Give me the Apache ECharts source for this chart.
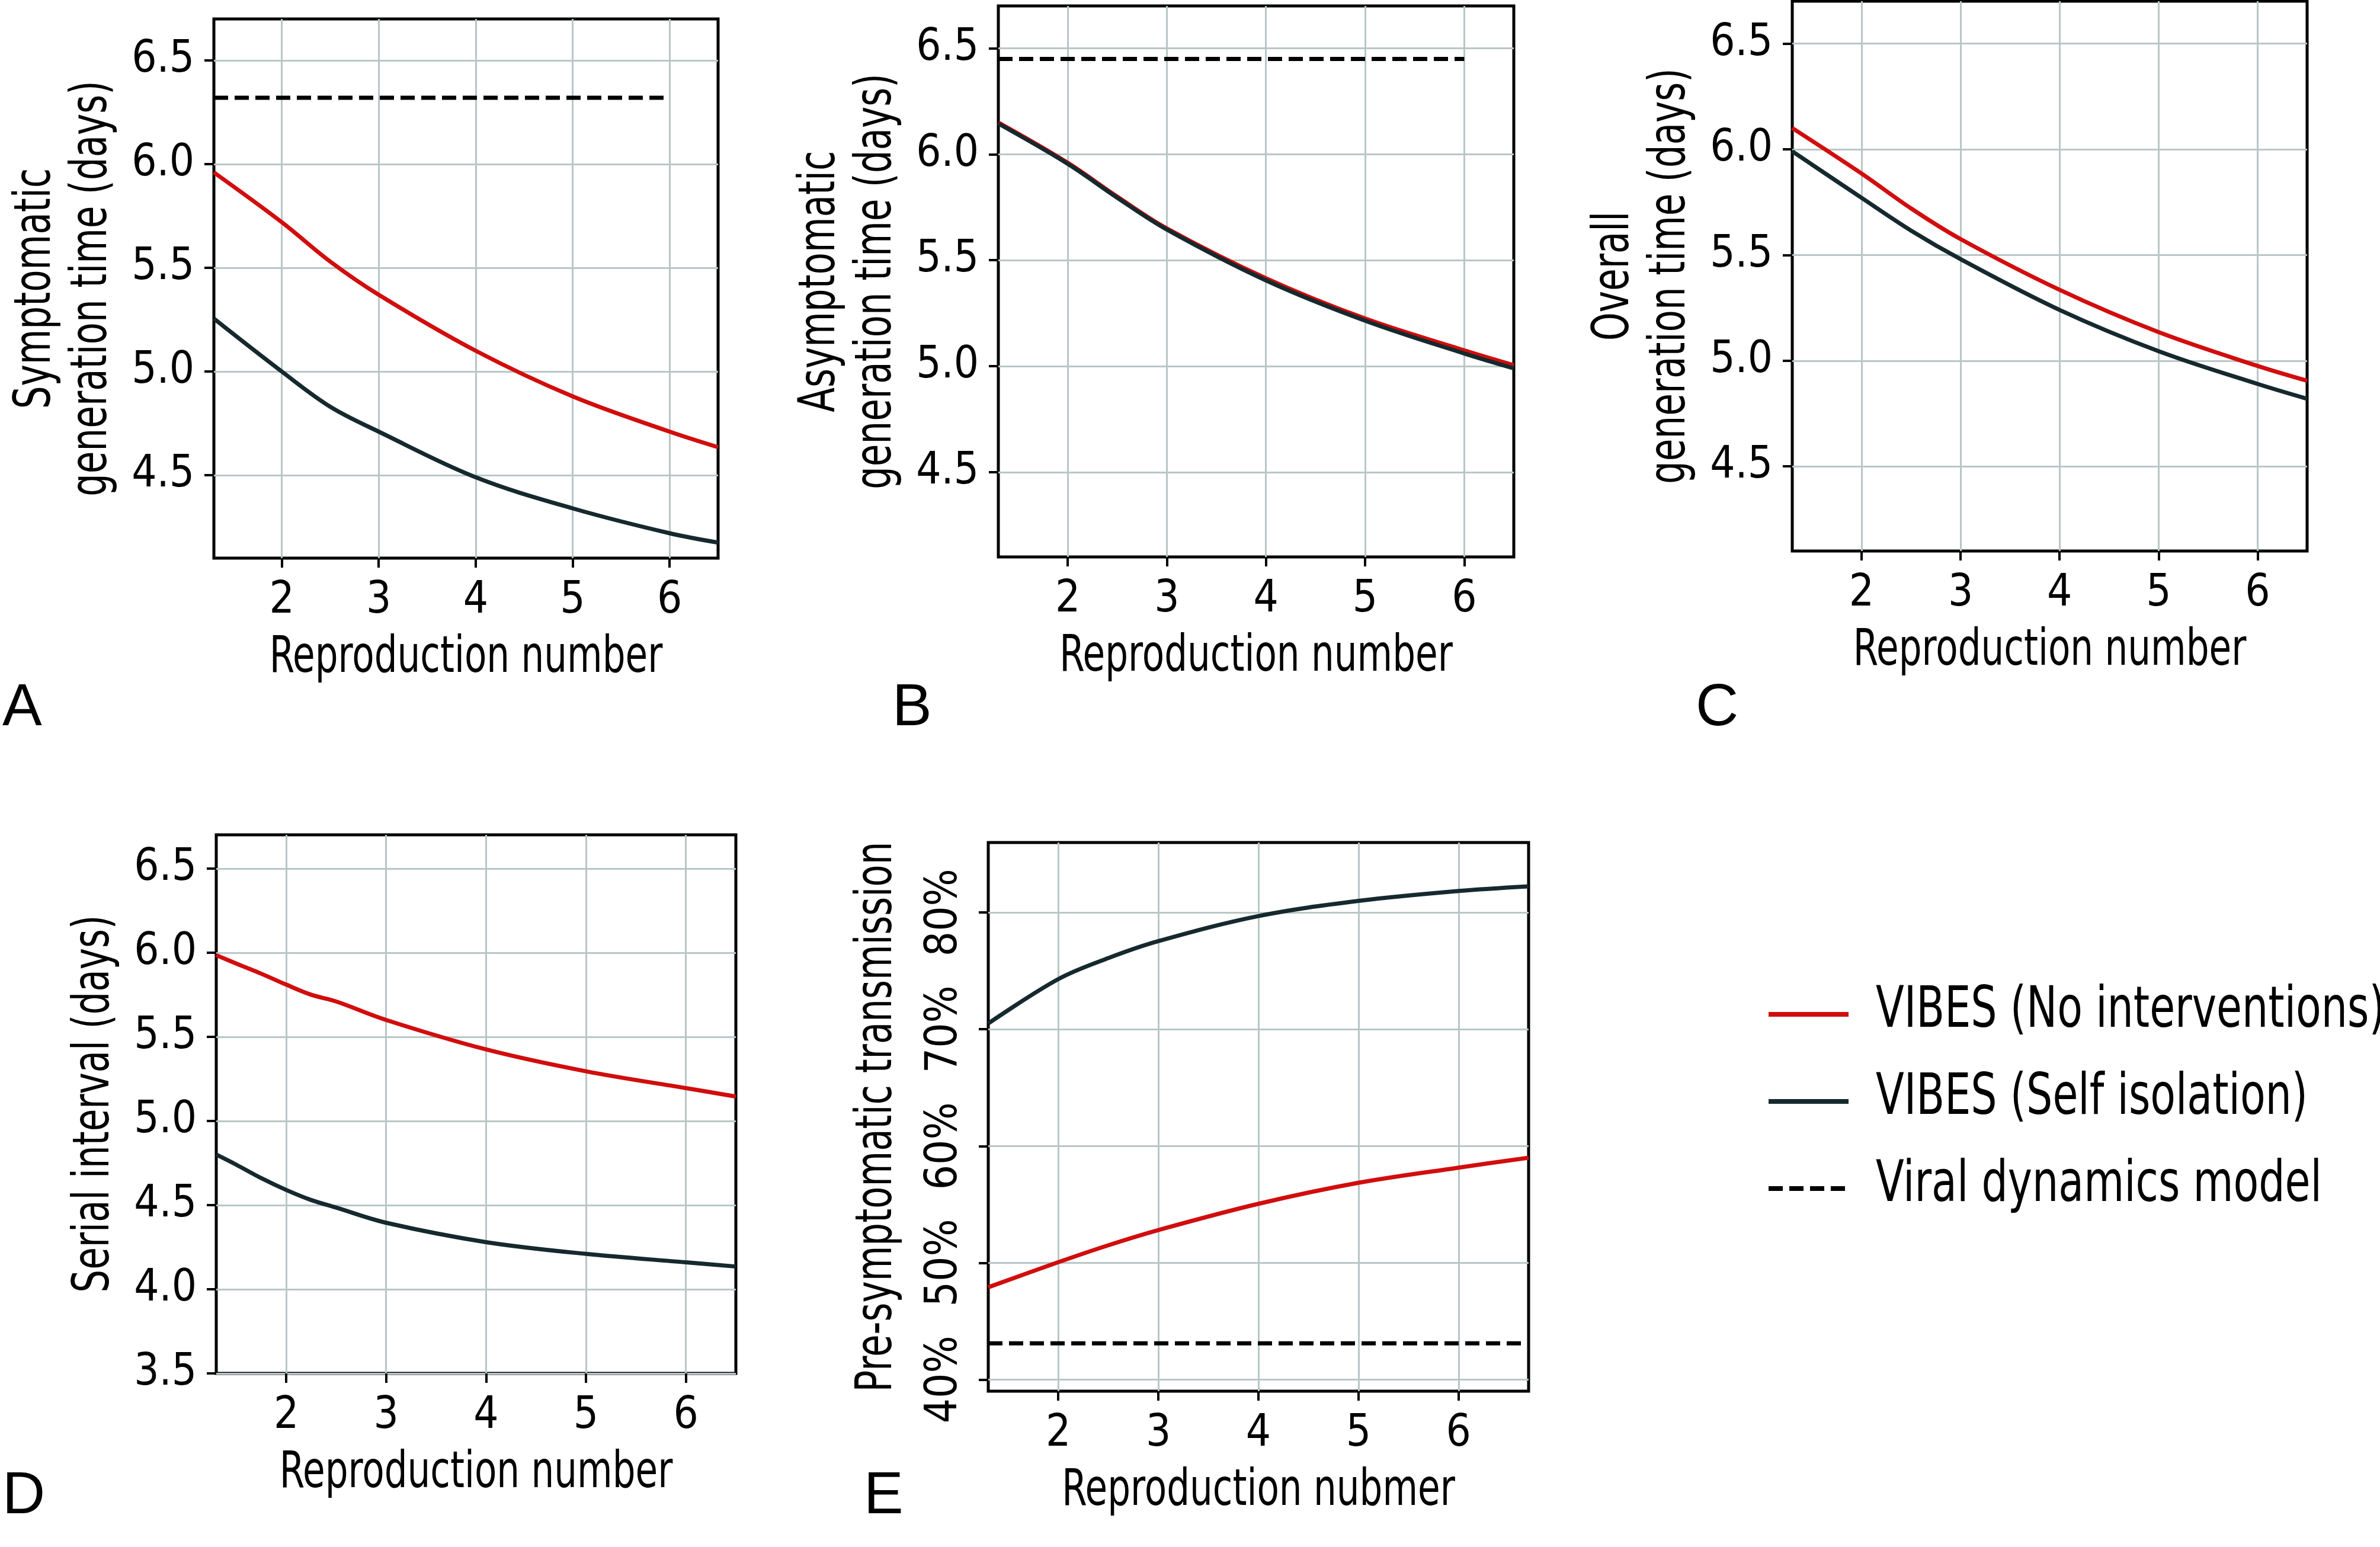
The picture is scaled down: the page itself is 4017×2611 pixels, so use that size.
<!DOCTYPE html>
<html>
<head>
<meta charset="utf-8">
<script src="https://cdn.jsdelivr.net/npm/echarts@6/dist/echarts.min.js"></script>
<style>
html, body { margin: 0; padding: 0; background: #fff; }
#chart { width: 4017px; height: 2611px; }
</style>
</head>
<body>
<div id="chart"></div>
<script>
// reproduction numbers sampled along the curves (panels A-C)
const rABC = [1.3, 2, 2.5, 3, 4, 5, 6, 6.5]
const symNoInt = [5.96, 5.72, 5.53, 5.37, 5.10, 4.88, 4.71, 4.635]
const symIso = [5.255, 5.0, 4.83, 4.71, 4.49, 4.34, 4.22, 4.175]
const asymNoInt = [6.15, 5.96, 5.80, 5.65, 5.415, 5.225, 5.075, 5.005]
const asymIso = [6.145, 5.955, 5.795, 5.645, 5.405, 5.215, 5.06, 4.99]
const allNoInt = [6.10, 5.885, 5.72, 5.575, 5.335, 5.135, 4.975, 4.905]
const allIso = [5.99, 5.77, 5.615, 5.48, 5.24, 5.045, 4.89, 4.82]
// panel D
const rD = [1.3, 1.5, 1.75, 2, 2.25, 2.5, 3, 4, 5, 6, 6.5]
const serialNoInt = [5.985, 5.935, 5.875, 5.81, 5.75, 5.71, 5.60, 5.425, 5.295, 5.195, 5.145]
const serialIso = [4.80, 4.74, 4.66, 4.59, 4.53, 4.485, 4.395, 4.28, 4.21, 4.16, 4.135]
// panel E (percent)
const rE = [1.3, 2, 2.5, 3, 4, 5, 6, 6.7]
const preNoInt = [47.9, 50.05, 51.5, 52.8, 55.05, 56.85, 58.15, 59.0]
const preIso = [70.5, 74.3, 76.1, 77.55, 79.7, 81.0, 81.85, 82.25]
// viral dynamics model (flat reference)
const viralR = [1.3, 6]
const viralRE = [1.3, 6.7]
const viralSym = 6.32
const viralAsym = 6.45
const viralPre = 43.1
// ticks
const rTicks = [2, 3, 4, 5, 6]
const dayTicks = [4.5, 5.0, 5.5, 6.0, 6.5]
const serialTicks = [3.5, 4.0, 4.5, 5.0, 5.5, 6.0, 6.5]
const preTicks = [40, 50, 60, 70, 80]

const NAMES = ['VIBES (No interventions)', 'VIBES (Self isolation)', 'Viral dynamics model']
const RED = '#d10d0d'
const DARK = '#15292e'
const FONT = "'Liberation Sans Narrow', 'DejaVu Sans Condensed', sans-serif"
const GRIDC = '#b9c6c6'
const SQUEEZE = 0.8   // the source font is narrower than anything installed

const pairs = (xs, ys) => xs.map((x, i) => [x, ys[i]])
const flat = (xs, v) => xs.map(x => [x, v])

const boxes = [
  { left: 361, top: 32, width: 851, height: 910 },
  { left: 1685, top: 10, width: 870, height: 930 },
  { left: 3025, top: 2, width: 869, height: 928 },
  { left: 365, top: 1409, width: 877, height: 909 },
  { left: 1668, top: 1422, width: 912, height: 926 }
]
const grids = boxes.map(b => Object.assign({}, b, { show: true, borderColor: '#000', borderWidth: 5, containLabel: false }))

function xAxis(i, max) {
  return {
    type: 'value', gridIndex: i, min: 1.3, max: max,
    axisLine: { show: false },
    axisTick: { show: true, length: 16, customValues: rTicks, lineStyle: { color: '#000', width: 4 } },
    axisLabel: { customValues: rTicks, margin: 36, fontSize: 74, fontFamily: FONT, color: '#000' },
    splitLine: { show: true, lineStyle: { color: GRIDC, width: 3 } }
  }
}

function yAxis(i, min, max, ticks, fmt, rotate) {
  return {
    type: 'value', gridIndex: i, min: min, max: max,
    axisLine: { show: false },
    axisTick: { show: true, length: 16, customValues: ticks, lineStyle: { color: '#000', width: 4 } },
    axisLabel: { customValues: ticks, margin: rotate ? 36 : 33, rotate: rotate || 0, fontSize: 74, fontFamily: FONT, color: '#000', formatter: fmt },
    splitLine: { show: true, lineStyle: { color: GRIDC, width: 3 } }
  }
}

const dayFmt = v => v.toFixed(1)
const pctFmt = v => v + '%'

function line(i, name, data, color, dashed) {
  return {
    type: 'line', name: name, xAxisIndex: i, yAxisIndex: i, data: data,
    symbol: 'none', smooth: dashed ? false : 0.35,
    color: color,
    lineStyle: { color: color, width: 7, type: dashed ? [24, 11] : 'solid' },
    z: dashed ? 3 : 4
  }
}

// squeezed text helper for titles and legend labels
function label(text, x, y, size, rot, align) {
  return {
    type: 'text', x: x, y: y, rotation: rot || 0, scaleX: SQUEEZE,
    style: { text: text, x: 0, y: 0, fontSize: size, fontFamily: FONT, fill: '#000', align: align || 'center', verticalAlign: 'middle' }
  }
}

// axis titles
const xTitles = ['Reproduction number', 'Reproduction number', 'Reproduction number', 'Reproduction number', 'Reproduction nubmer']
const titles = []
boxes.forEach((b, i) => {
  titles.push(label(xTitles[i], b.left + b.width / 2, b.top + b.height + 170, 85))
})
const R = Math.PI / 2
titles.push(label('Symptomatic', 62, 487, 85, R), label('generation time (days)', 157, 487, 85, R))
titles.push(label('Asymptomatic', 1386, 475, 85, R), label('generation time (days)', 1481, 475, 85, R))
titles.push(label('Overall', 2726, 466, 85, R), label('generation time (days)', 2821, 466, 85, R))
titles.push(label('Serial interval (days)', 161, 1863, 85, R))
titles.push(label('Pre-symptomatic transmission', 1482, 1885, 85, R))

const letters = [
  ['A', 4, 1146], ['B', 1506, 1146], ['C', 2862, 1146],
  ['D', 4, 2476], ['E', 1458, 2476]
].map(([t, x, y]) => ({
  type: 'text', left: x, top: y,
  style: { text: t, fontSize: 100, fontFamily: "'Liberation Sans', Arial, sans-serif", fill: '#000' }
}))

// legend drawn by hand: sample line + label per row
const legendRows = [[1712, RED, null], [1859, DARK, null], [2006, '#000', [24, 11]]]
const legend = []
legendRows.forEach(([y, c, dash], k) => {
  legend.push({
    type: 'line', shape: { x1: 2985, y1: y, x2: 3120, y2: y },
    style: { stroke: c, lineWidth: 8, lineDash: dash }
  })
  legend.push(label(NAMES[k], 3166, y - 4, 97, 0, 'left'))
})

const chart = echarts.init(document.getElementById('chart'))
chart.setOption({
  animation: false,
  backgroundColor: '#fff',
  grid: grids,
  xAxis: [xAxis(0, 6.5), xAxis(1, 6.5), xAxis(2, 6.5), xAxis(3, 6.5), xAxis(4, 6.7)],
  yAxis: [
    yAxis(0, 4.1, 6.7, dayTicks, dayFmt),
    yAxis(1, 4.1, 6.7, dayTicks, dayFmt),
    yAxis(2, 4.1, 6.7, dayTicks, dayFmt),
    yAxis(3, 3.5, 6.7, serialTicks, dayFmt),
    yAxis(4, 39, 86, preTicks, pctFmt, 90)
  ],
  graphic: letters.concat(titles, legend),
  series: [
    line(0, NAMES[2], flat(viralR, viralSym), '#000', true),
    line(0, NAMES[0], pairs(rABC, symNoInt), RED),
    line(0, NAMES[1], pairs(rABC, symIso), DARK),
    line(1, NAMES[2], flat(viralR, viralAsym), '#000', true),
    line(1, NAMES[0], pairs(rABC, asymNoInt), RED),
    line(1, NAMES[1], pairs(rABC, asymIso), DARK),
    line(2, NAMES[0], pairs(rABC, allNoInt), RED),
    line(2, NAMES[1], pairs(rABC, allIso), DARK),
    line(3, NAMES[0], pairs(rD, serialNoInt), RED),
    line(3, NAMES[1], pairs(rD, serialIso), DARK),
    line(4, NAMES[2], flat(viralRE, viralPre), '#000', true),
    line(4, NAMES[0], pairs(rE, preNoInt), RED),
    line(4, NAMES[1], pairs(rE, preIso), DARK)
  ]
})
</script>
</body>
</html>
